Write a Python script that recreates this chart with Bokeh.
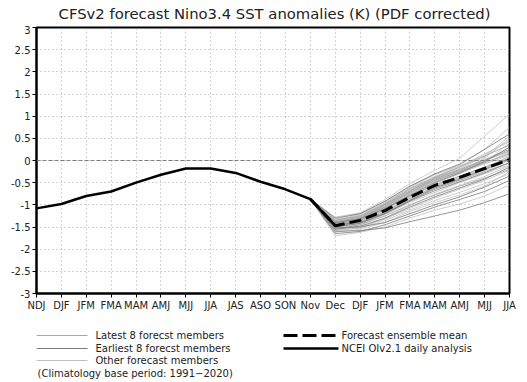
from bokeh.plotting import figure
from bokeh.models import Range1d, FixedTicker, Span
from bokeh.layouts import column
from bokeh.core.properties import value
from bokeh.embed import file_html
from bokeh.resources import INLINE

# ---------------- data ----------------
seasons = ["NDJ", "DJF", "JFM", "FMA", "MAM", "AMJ", "MJJ", "JJA", "JAS", "ASO",
           "SON", "Nov", "Dec", "DJF", "JFM", "FMA", "MAM", "AMJ", "MJJ", "JJA"]
y_ticks = [-3, -2.5, -2, -1.5, -1, -0.5, 0, 0.5, 1, 1.5, 2, 2.5, 3]
y_tick_labels = ["-3", "-2.5", "-2", "-1.5", "-1", "-0.5", "0", "0.5", "1", "1.5", "2", "2.5", "3"]

obs_x = [0, 1, 2, 3, 4, 5, 6, 7, 8, 9, 10, 11, 12]
obs_y = [-1.08, -0.98, -0.80, -0.70, -0.50, -0.32, -0.18, -0.18, -0.28, -0.48, -0.65, -0.87, -1.47]

fc_x = [11, 12, 13, 14, 15, 16, 17, 18, 19]
mean_y = [-0.87, -1.47, -1.35, -1.13, -0.83, -0.56, -0.38, -0.18, 0.02]

latest8 = [
    [-0.87, -1.40, -1.30, -1.05, -0.72, -0.45, -0.25, -0.05, 0.15],
    [-0.87, -1.45, -1.35, -1.10, -0.80, -0.55, -0.35, -0.15, 0.05],
    [-0.87, -1.50, -1.40, -1.18, -0.90, -0.65, -0.45, -0.25, -0.05],
    [-0.87, -1.35, -1.25, -0.98, -0.65, -0.38, -0.15, 0.10, 0.35],
    [-0.87, -1.55, -1.45, -1.25, -1.00, -0.78, -0.58, -0.40, -0.20],
    [-0.87, -1.42, -1.30, -1.02, -0.70, -0.42, -0.22, 0.00, 0.22],
    [-0.87, -1.48, -1.38, -1.15, -0.85, -0.60, -0.40, -0.20, 0.02],
    [-0.87, -1.38, -1.28, -1.00, -0.68, -0.40, -0.20, 0.02, 0.25],
]
earliest8 = [
    [-0.87, -1.52, -1.50, -1.40, -1.20, -1.00, -0.82, -0.60, -0.35],
    [-0.87, -1.60, -1.58, -1.52, -1.38, -1.25, -1.12, -0.95, -0.75],
    [-0.87, -1.45, -1.40, -1.20, -0.90, -0.62, -0.42, -0.20, 0.05],
    [-0.87, -1.30, -1.20, -0.92, -0.58, -0.30, -0.08, 0.25, 0.60],
    [-0.87, -1.65, -1.60, -1.45, -1.25, -1.05, -0.88, -0.70, -0.45],
    [-0.87, -1.40, -1.32, -1.08, -0.78, -0.50, -0.28, -0.02, 0.30],
    [-0.87, -1.55, -1.48, -1.30, -1.05, -0.82, -0.62, -0.42, -0.15],
    [-0.87, -1.50, -1.42, -1.20, -0.92, -0.68, -0.48, -0.28, -0.05],
]
others = [
    [-0.87, -1.28, -1.18, -0.88, -0.52, -0.22, 0.05, 0.55, 1.05],
    [-0.87, -1.35, -1.22, -0.95, -0.60, -0.32, -0.10, 0.25, 0.75],
    [-0.87, -1.42, -1.32, -1.05, -0.75, -0.48, -0.25, 0.05, 0.50],
    [-0.87, -1.47, -1.36, -1.10, -0.80, -0.52, -0.30, -0.05, 0.40],
    [-0.87, -1.52, -1.45, -1.22, -0.95, -0.72, -0.50, -0.30, -0.10],
    [-0.87, -1.38, -1.28, -1.00, -0.68, -0.42, -0.22, 0.00, 0.20],
    [-0.87, -1.44, -1.34, -1.08, -0.76, -0.48, -0.28, -0.08, 0.12],
    [-0.87, -1.58, -1.52, -1.35, -1.12, -0.90, -0.72, -0.52, -0.30],
    [-0.87, -1.32, -1.20, -0.92, -0.58, -0.32, -0.12, 0.12, 0.45],
    [-0.87, -1.62, -1.55, -1.40, -1.15, -0.95, -0.78, -0.58, -0.25],
    [-0.87, -1.46, -1.36, -1.12, -0.82, -0.55, -0.36, -0.15, 0.08],
    [-0.87, -1.40, -1.30, -1.04, -0.72, -0.44, -0.24, -0.02, 0.28],
    [-0.87, -1.55, -1.50, -1.32, -1.08, -0.85, -0.65, -0.45, -0.22],
    [-0.87, -1.36, -1.26, -0.98, -0.64, -0.38, -0.18, 0.08, 0.55],
    [-0.87, -1.50, -1.42, -1.18, -0.88, -0.62, -0.44, -0.22, 0.00],
    [-0.87, -1.70, -1.62, -1.50, -1.30, -1.12, -0.98, -0.80, -0.55],
    [-0.87, -1.43, -1.33, -1.06, -0.74, -0.46, -0.26, -0.06, 0.18],
    [-0.87, -1.48, -1.40, -1.16, -0.86, -0.58, -0.38, -0.18, 0.10],
    [-0.87, -1.34, -1.24, -0.96, -0.62, -0.36, -0.14, 0.15, 0.42],
    [-0.87, -1.58, -1.52, -1.30, -1.02, -0.76, -0.56, -0.36, -0.12],
]

title_text = "CFSv2 forecast Nino3.4 SST anomalies (K) (PDF corrected)"
legend_labels = ["Latest 8 forecst members", "Earliest 8 forecst members",
                 "Other forecast members", "Forecast ensemble mean",
                 "NCEI OIv2.1 daily analysis"]
clim_text = "(Climatology base period: 1991\u22122020)"

FONT = "DejaVu Sans"
C_LATEST, C_EARLIEST, C_OTHER = "#a6a6a6", "#7a7a7a", "#c0c0c0"
TXT = "#222222"
W = 524
H_TOP, H_MAIN, H_LEG = 25, 290, 66
BL, BR = 36, 15


def strip(height):
    f = figure(width=W, height=height, output_backend="svg", toolbar_location=None,
               x_range=Range1d(BL, W - BR), y_range=Range1d(height, 0),
               x_axis_type=None, y_axis_type=None,
               min_border_left=BL, min_border_right=BR,
               min_border_top=0, min_border_bottom=0)
    f.outline_line_color = None
    f.grid.visible = False
    f.background_fill_color = "white"
    f.border_fill_color = "white"
    return f


# ---------------- title strip ----------------
t = strip(H_TOP)
t.text(x=[274], y=[13], text=[title_text], text_font=value(FONT), text_font_size="14.8px",
       text_baseline="middle", text_align="center", text_color=TXT)

# ---------------- main figure ----------------
p = figure(width=W, height=H_MAIN, output_backend="svg", toolbar_location=None,
           x_range=Range1d(0, len(seasons) - 1), y_range=Range1d(-3, 3),
           min_border_left=BL, min_border_right=BR, min_border_top=2,
           min_border_bottom=22)
p.background_fill_color = "white"
p.border_fill_color = "white"
p.outline_line_color = "black"
p.outline_line_width = 2

p.xaxis.ticker = FixedTicker(ticks=list(range(len(seasons))))
p.xaxis.major_label_overrides = {i: s for i, s in enumerate(seasons)}
p.yaxis.ticker = FixedTicker(ticks=y_ticks)
p.yaxis.major_label_overrides = {tk: lb for tk, lb in zip(y_ticks, y_tick_labels)}
for ax in (p.xaxis, p.yaxis):
    ax.axis_line_width = 2
    ax.axis_line_color = "black"
    ax.major_tick_line_color = "black"
    ax.major_tick_in = 0
    ax.major_tick_out = 4
    ax.minor_tick_line_color = None
    ax.major_label_text_font = FONT
    ax.major_label_text_font_size = "10px"
    ax.major_label_text_color = TXT
p.xaxis.major_label_standoff = 2
p.yaxis.major_label_standoff = 2

for g in (p.xgrid, p.ygrid):
    g.grid_line_color = "#a8a8a8"
    g.grid_line_dash = "1 3"
    g.grid_line_width = 1
p.xgrid.ticker = FixedTicker(ticks=list(range(len(seasons))))
p.ygrid.ticker = FixedTicker(ticks=y_ticks)

p.add_layout(Span(location=0, dimension="width", line_color="#808080",
                  line_dash="4 2", line_width=1))

p.multi_line([fc_x] * len(others), others, line_color=C_OTHER, line_width=0.8)
p.multi_line([fc_x] * len(latest8), latest8, line_color=C_LATEST, line_width=0.9)
p.multi_line([fc_x] * len(earliest8), earliest8, line_color=C_EARLIEST, line_width=0.8)
p.line(fc_x, mean_y, line_color="black", line_width=3, line_dash="12 5")
p.line(obs_x, obs_y, line_color="black", line_width=2.5)

# ---------------- legend strip ----------------
q = strip(H_LEG)
rows = [20, 33, 45]
swatch = [
    (36, 87, rows[0], C_LATEST, 1.2, None),
    (36, 87, rows[1], C_EARLIEST, 1, None),
    (36, 87, rows[2], C_OTHER, 1, None),
    (283, 338, rows[0], "black", 3, "14 5"),
    (283, 338, rows[1], "black", 2.5, None),
]
for x0, x1, yy, c, w, d in swatch:
    kw = dict(line_color=c, line_width=w)
    if d:
        kw["line_dash"] = d
    q.line([x0, x1], [yy, yy], **kw)

q.text(x=[95, 95, 95, 341, 341], y=[rows[0], rows[1], rows[2], rows[0], rows[1]],
       text=legend_labels, text_font=value(FONT), text_font_size="10px",
       text_baseline="middle", text_align="left", text_color=TXT)
q.text(x=[37], y=[58], text=[clim_text], text_font=value(FONT), text_font_size="10px",
       text_baseline="middle", text_align="left", text_color=TXT)

layout = column(t, p, q, spacing=0)
open("out.html", "w").write(file_html(layout, INLINE))
